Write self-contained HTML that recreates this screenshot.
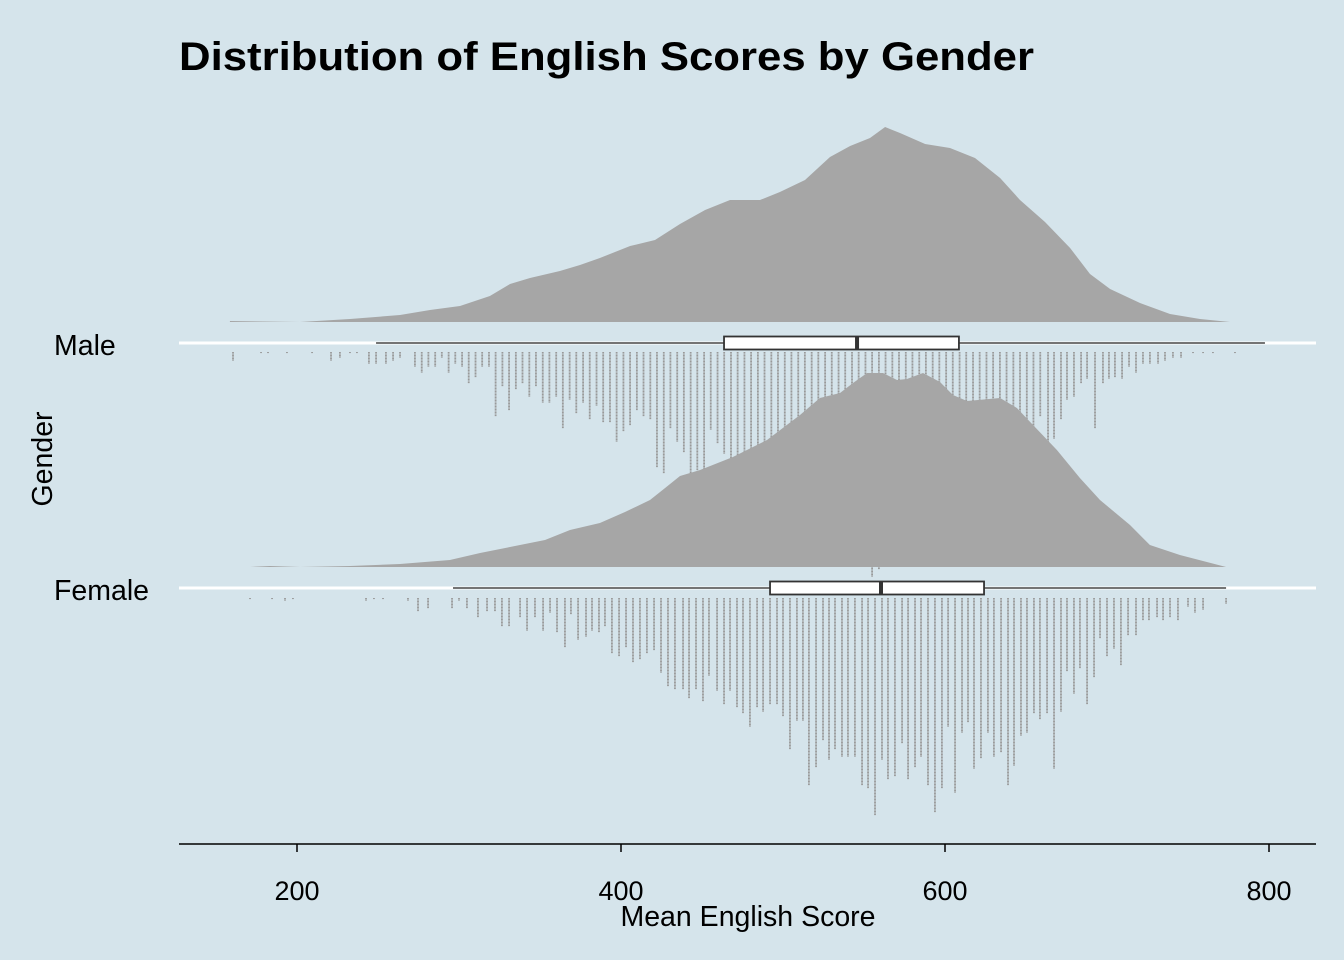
<!DOCTYPE html>
<html><head><meta charset="utf-8"><style>
html,body{margin:0;padding:0;background:#d5e4eb;}
svg{display:block;font-family:"Liberation Sans",Arial,sans-serif;}
</style></head><body>
<svg id="chart" width="1344" height="960" viewBox="0 0 1344 960" xmlns="http://www.w3.org/2000/svg">
<rect x="0" y="0" width="1344" height="960" fill="#d5e4eb"/>
<text x="179" y="70" font-size="40" font-weight="bold" textLength="855" lengthAdjust="spacingAndGlyphs">Distribution of English Scores by Gender</text>
<g id="plot"></g>
<text x="54" y="355" font-size="28.5">Male</text>
<text x="54" y="600" font-size="28.5">Female</text>
<text transform="translate(52,459) rotate(-90)" font-size="28.5" text-anchor="middle">Gender</text>
<text x="748" y="926" font-size="28.5" text-anchor="middle">Mean English Score</text>
</svg>
<script>
var tickValues = [200, 400, 600, 800];
var tickLabels = ["200", "400", "600", "800"];

var maleDensX = [158.6,201.9,232.7,263.6,282.1,300.6,319.1,331.5,343.8,362.3,374.7,387,405.6,421,436.4,451.9,467.3,485.8,498.1,513.6,529,541.4,553.7,563,572.2,587.7,603.1,618.5,634,646.3,661.7,677.2,689.5,701.9,720.4,738.9,757.4,775.9,797.5];
var maleDensY = [1,0,3,7,12,16,26,38,44,51,57,64,76,82,98,112,122,122,130,142,165,176,184,195,189,178,174,164,144,122,100,74,48,33,19,8,3,0,0];
var femaleDensX = [171,183.3,201.9,232.7,263.6,294.4,313,331.5,353.1,368.5,387,402.5,417.9,427.2,436.4,448.8,469.1,490.1,510.5,522.8,535.2,543.2,551.9,561.7,570.4,576.5,586.4,596.9,604.9,613.6,634,644.4,654.3,669.1,683.3,695.7,714.2,726.5,745,773.5];
var femaleDensY = [0,1,0,1,3,7,14,20,27,37,44,55,67,79,91,97,110,127,152,169,174,184,194,194,187,188,194,185,172,166,169,159,142,117,89,67,42,22,12,0];

var maleBins = [160.5,177.8,182.1,193.8,209.3,221,226.5,232.7,237,244.4,248.8,254.9,259.3,263.6,
272.8,277,281.1,285.3,289.4,293.6,297.7,301.9,306,310.2,314.3,318.5,322.6,326.8,330.9,335.1,339.2,343.4,347.5,351.7,355.8,360,364.1,368.3,372.4,376.6,380.7,384.9,389,393.2,397.3,401.5,405.6,409.8,413.9,418.1,422.2,426.4,430.5,434.7,438.8,443,447.1,
451.3,455.4,459.6,463.7,467.9,472,476.2,480.3,484.5,488.6,492.8,496.9,501.1,505.2,509.4,513.5,517.7,521.8,526,530.1,534.3,538.4,542.6,546.7,550.9,555,559.2,563.3,567.5,571.6,575.8,579.9,584.1,588.2,592.4,596.5,600.7,604.8,609,613.1,617.3,621.4,625.6,629.7,633.9,638,642.2,646.3,650.5,654.6,658.8,
663.6,667.3,671.6,675.3,679.6,684,687.7,692.6,697.5,701.2,704.9,709.3,713.6,717.9,722.2,726.5,731.5,735.8,740.7,745.7,753.1,759.3,765.4,779,792.6,797.5];
var maleCounts = [6,1,1,1,1,6,4,1,1,8,8,8,6,4,
10,14,10,10,4,14,8,10,21,17,10,10,43,23,39,25,21,30,23,34,34,30,51,32,41,34,45,36,47,47,60,53,49,39,43,45,77,81,51,60,67,
83,79,82,52,61,68,75,80,85,72,78,90,85,80,88,92,85,80,90,95,143,85,90,80,85,92,88,150,145,85,90,82,78,70,80,85,75,72,80,78,70,75,68,72,80,75,70,65,72,60,66,
70,43,60,58,45,32,30,21,18,51,21,18,17,18,10,14,8,8,8,6,4,4,1,1,1,1];

var femaleBins = [171,184.6,192.6,197.5,242.6,247.5,253.1,268.5,274.7,280.9,295.7,300,304.9,
311.7,317.3,322.2,326.5,330.9,337.7,342,346.9,351.9,356.2,360.5,365.4,369.1,373.5,378.4,382.1,386.4,390.1,394.4,398.8,403.1,407.4,411.7,416,420.4,424.7,429,433.3,438.3,442,446.3,450.6,454.3,
459.3,463.6,467.3,471.6,475.3,479.6,484,487.7,492,496.3,500,504.3,508.6,512.3,516,520.4,524.7,528.4,532.1,536.4,540.1,544.4,548.8,552.5,556.8,561.1,564.8,569.1,573.5,577.2,581.5,585.2,589.5,593.8,598.1,601.9,606.2,610.5,614.2,617.9,622.2,626.5,630.2,634.6,638.9,642.6,
646.9,650.6,654.9,658.6,663,667.3,671.6,675.3,679.6,683.3,687.7,692,695.7,700,704.3,708.6,713,717.9,722.2,725.9,730.9,734.6,738.9,743.8,750,754.3,759.3,773.5];
var femaleCounts = [1,1,2,1,2,1,1,2,9,7,7,2,7,
13,9,9,19,19,13,22,13,22,10,23,33,11,28,26,22,23,19,37,39,33,43,41,37,35,50,59,61,61,67,61,69,52,
62,71,62,73,77,86,73,76,71,71,79,101,82,82,125,113,95,108,101,106,106,106,125,127,145,108,121,119,97,121,113,106,125,143,127,86,130,90,83,114,107,90,106,103,125,112,
92,90,77,81,77,114,76,49,64,47,71,53,27,39,34,45,25,25,15,15,13,15,13,15,6,10,8,4];

var maleBox = [248.8, 463.6, 545.7, 608.6, 797.5];
var femaleBox = [296.3, 492, 560.5, 624.1, 773.5];

var NS = "http://www.w3.org/2000/svg";
var plot = document.getElementById("plot");
function xs(v){ return 297 + (v - 200) * 1.62; }
function dh(d){ return d * 1.0; }
var dotStep = 1.5;
function mk(tag, attrs){ var e = document.createElementNS(NS, tag); for (var k in attrs) e.setAttribute(k, attrs[k]); plot.appendChild(e); return e; }

function density(X, Y, base){
  var d = "M" + xs(X[0]) + "," + base;
  for (var i = 0; i < X.length; i++) d += " L" + xs(X[i]).toFixed(1) + "," + (base - dh(Y[i])).toFixed(1);
  d += " L" + xs(X[X.length-1]) + "," + base + " Z";
  return d;
}
function dots(B, C, top, name){
  for (var i = 0; i < B.length; i++){
    if (!C[i]) continue;
    var e = mk("line", {x1: xs(B[i]), x2: xs(B[i]), y1: top, y2: top + C[i] * dotStep, stroke: "#999999", "stroke-width": 1.8, "stroke-dasharray": "1.1 0.4"});
    
    
  }
}
function gridline(y, name){
  var e = mk("line", {x1: 179, x2: 1316, y1: y, y2: y, stroke: "#ffffff", "stroke-width": 3});
  
  
}
function boxplot(b, y, name){
  var w = mk("line", {x1: xs(b[0]), x2: xs(b[4]), y1: y, y2: y, stroke: "#222", "stroke-width": 1.3});
  
  
  var r = mk("rect", {x: xs(b[1]), y: y - 6.5, width: xs(b[3]) - xs(b[1]), height: 13, fill: "#fff", stroke: "#333", "stroke-width": 1.8});
  
  
  var m = mk("line", {x1: xs(b[2]), x2: xs(b[2]), y1: y - 6.5, y2: y + 6.5, stroke: "#333", "stroke-width": 4});
  
  
}

gridline(343, 'gridline-male');
gridline(588, 'gridline-female');
var pm = mk("path", {d: density(maleDensX, maleDensY, 322), fill: "#a6a6a6"});


boxplot(maleBox, 343, 'boxplot-male');
dots(maleBins, maleCounts, 352, 'dot-column-male');
var pf = mk("path", {d: density(femaleDensX, femaleDensY, 567), fill: "#a6a6a6"});


boxplot(femaleBox, 588, 'boxplot-female');
dots(femaleBins, femaleCounts, 598, 'dot-column-female');

var ax = mk("line", {x1: 179, x2: 1316, y1: 844, y2: 844, stroke: "#000", "stroke-width": 1.5});


for (var i = 0; i < tickValues.length; i++){
  var t = mk("line", {x1: xs(tickValues[i]), x2: xs(tickValues[i]), y1: 844, y2: 852, stroke: "#000", "stroke-width": 1.5});
  
  
  var l = mk("text", {x: xs(tickValues[i]), y: 900, "font-size": 27, "text-anchor": "middle", fill: "#000"});
  l.textContent = tickLabels[i];
  
  
}
</script>
</body></html>
